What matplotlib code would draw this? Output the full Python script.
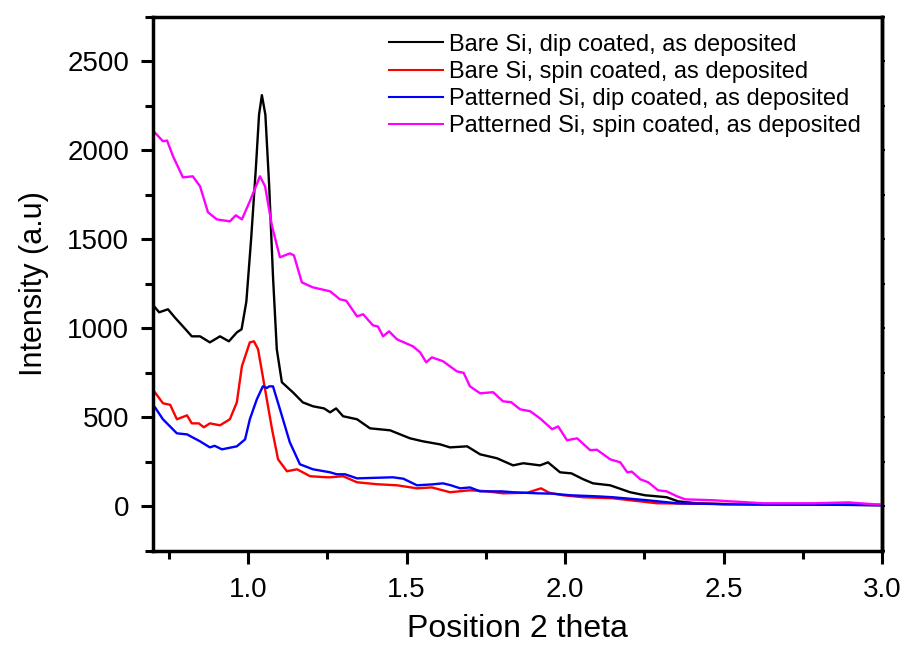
import numpy as np
import matplotlib
matplotlib.use("Agg")
import matplotlib.pyplot as plt
from matplotlib.ticker import MultipleLocator

plt.rcParams['font.family'] = ['Liberation Sans', 'DejaVu Sans']

# Bare Si, dip coated
x_bd = [0.70, 0.707, 0.72, 0.748, 0.77, 0.795, 0.823, 0.849, 0.88, 0.912, 0.94, 0.965, 0.98, 0.995,
        1.01, 1.025, 1.035, 1.044, 1.055, 1.067, 1.079, 1.091, 1.107, 1.142, 1.173, 1.205, 1.24,
        1.259, 1.278, 1.30, 1.344, 1.385, 1.448, 1.511, 1.552, 1.606, 1.637, 1.691, 1.732, 1.785,
        1.836, 1.868, 1.921, 1.946, 1.984, 2.02, 2.057, 2.088, 2.142, 2.205, 2.252, 2.29, 2.32,
        2.356, 2.416, 2.5, 2.7, 2.9, 3.0]
y_bd = [1130, 1118, 1090, 1107, 1060, 1011, 955, 955, 921, 955, 927, 977, 995, 1150,
        1500, 1900, 2200, 2310, 2200, 1800, 1292, 882, 697, 640, 584, 562, 550,
        528, 550, 506, 489, 438, 427, 382, 365, 348, 331, 337, 292, 270,
        230, 242, 230, 247, 191, 185, 152, 129, 118, 79, 62, 56, 51,
        28, 17, 12, 10, 8, 6]

# Bare Si, spin coated
x_bs = [0.70, 0.707, 0.732, 0.755, 0.776, 0.808, 0.823, 0.845, 0.861, 0.88, 0.912, 0.943, 0.965,
        0.981, 1.006, 1.019, 1.032, 1.054, 1.076, 1.095, 1.123, 1.155, 1.196, 1.249, 1.259,
        1.30, 1.344, 1.407, 1.47, 1.533, 1.58, 1.637, 1.70, 1.75, 1.804, 1.88, 1.924, 1.95,
        1.994, 2.057, 2.151, 2.29, 2.4, 2.6, 2.8, 3.0]
y_bs = [650, 640, 579, 570, 489, 511, 466, 466, 444, 466, 455, 489, 584,
        787, 921, 927, 882, 657, 433, 264, 197, 208, 169, 163, 163,
        169, 135, 124, 118, 101, 106, 79, 90, 85, 73, 76, 101, 76,
        62, 51, 45, 17, 15, 12, 10, 8]

# Patterned Si, dip coated
x_pd = [0.70, 0.707, 0.732, 0.776, 0.808, 0.849, 0.88, 0.895, 0.918, 0.965, 0.991, 1.006, 1.028,
        1.047, 1.06, 1.067, 1.079, 1.101, 1.132, 1.164, 1.205, 1.259, 1.28, 1.306, 1.344,
        1.40, 1.457, 1.49, 1.533, 1.58, 1.615, 1.64, 1.669, 1.70, 1.732, 1.80, 1.836, 1.912,
        1.96, 2.016, 2.101, 2.15, 2.259, 2.353, 2.5, 2.7, 2.9, 3.0]
y_pd = [570, 556, 489, 410, 404, 365, 331, 340, 320, 337, 376, 489, 601,
        674, 665, 674, 674, 545, 360, 236, 208, 191, 180, 180, 157,
        160, 163, 155, 118, 123, 129, 118, 101, 106, 84, 84, 79, 73,
        71, 62, 56, 51, 34, 17, 12, 9, 8, 6]

# Patterned Si, spin coated
x_ps = [0.70, 0.703, 0.732, 0.745, 0.764, 0.795, 0.826, 0.849, 0.874, 0.902, 0.943, 0.962, 0.981,
        1.006, 1.038, 1.054, 1.076, 1.101, 1.132, 1.145, 1.17, 1.205, 1.259, 1.29, 1.31, 1.344,
        1.363, 1.394, 1.41, 1.426, 1.445, 1.47, 1.52, 1.543, 1.562, 1.58, 1.615, 1.659, 1.68,
        1.70, 1.732, 1.773, 1.804, 1.83, 1.858, 1.89, 1.921, 1.959, 1.978, 2.006, 2.038, 2.079,
        2.10, 2.142, 2.174, 2.196, 2.21, 2.237, 2.262, 2.293, 2.32, 2.353, 2.379, 2.467, 2.521,
        2.625, 2.785, 2.893, 2.975, 3.0]
y_ps = [2110, 2107, 2051, 2055, 1966, 1848, 1854, 1798, 1652, 1612, 1601, 1635, 1612,
        1714, 1854, 1798, 1573, 1399, 1421, 1410, 1258, 1230, 1208, 1163, 1155, 1067,
        1079, 1017, 1010, 955, 983, 938, 899, 865, 809, 837, 815, 758, 750,
        674, 635, 641, 590, 585, 545, 534, 494, 433, 449, 371, 382, 315,
        318, 264, 247, 191, 195, 152, 135, 90, 84, 56, 39, 34, 28,
        17, 17, 22, 11, 10]

x_ticks = [1.0, 1.5, 2.0, 2.5, 3.0]
x_ticklabels = ['1.0', '1.5', '2.0', '2.5', '3.0']
y_ticks = [0, 500, 1000, 1500, 2000, 2500]

series = [
    (x_bd, y_bd, 'black', 'Bare Si, dip coated, as deposited'),
    (x_bs, y_bs, 'red', 'Bare Si, spin coated, as deposited'),
    (x_pd, y_pd, 'blue', 'Patterned Si, dip coated, as deposited'),
    (x_ps, y_ps, 'magenta', 'Patterned Si, spin coated, as deposited'),
]

fig = plt.figure(figsize=(9.04, 6.48), dpi=100)
ax = fig.add_axes([0.169, 0.150, 0.807, 0.824])

for xs, ys, c, lab in series:
    ax.plot(xs, ys, color=c, lw=1.7, label=lab)

ax.set_xlim(0.7, 3.0)
ax.set_ylim(-250, 2750)
ax.xaxis.set_minor_locator(MultipleLocator(0.25))
ax.yaxis.set_minor_locator(MultipleLocator(250))
ax.set_yticks(y_ticks)
ax.set_xticks(x_ticks)
ax.set_xticklabels(x_ticklabels)

for s in ax.spines.values():
    s.set_linewidth(2.5)
ax.tick_params(which='major', direction='out', length=9, width=2.2, labelsize=20, pad=8)
ax.tick_params(which='minor', direction='out', length=6, width=2.2)
ax.tick_params(axis='x', pad=10)

# short marks on the right spine
sec = ax.secondary_yaxis('right')
sec.set_yticks(y_ticks)
sec.yaxis.set_minor_locator(MultipleLocator(250))
sec.tick_params(which='both', direction='out', length=2, width=1.5, labelright=False)
sec.spines['right'].set_linewidth(2.5)

ax.set_xlabel('Position 2 theta', fontsize=23, labelpad=8)
ax.set_ylabel('Intensity (a.u)', fontsize=22, labelpad=13)

leg = ax.legend(loc='upper right', bbox_to_anchor=(0.99, 0.995), frameon=False, fontsize=17,
                handlelength=2.3, handletextpad=0.25, labelspacing=0.22, borderaxespad=0.2)
for l in leg.get_lines():
    l.set_linewidth(1.5)

fig.savefig('out.png', dpi=100)
